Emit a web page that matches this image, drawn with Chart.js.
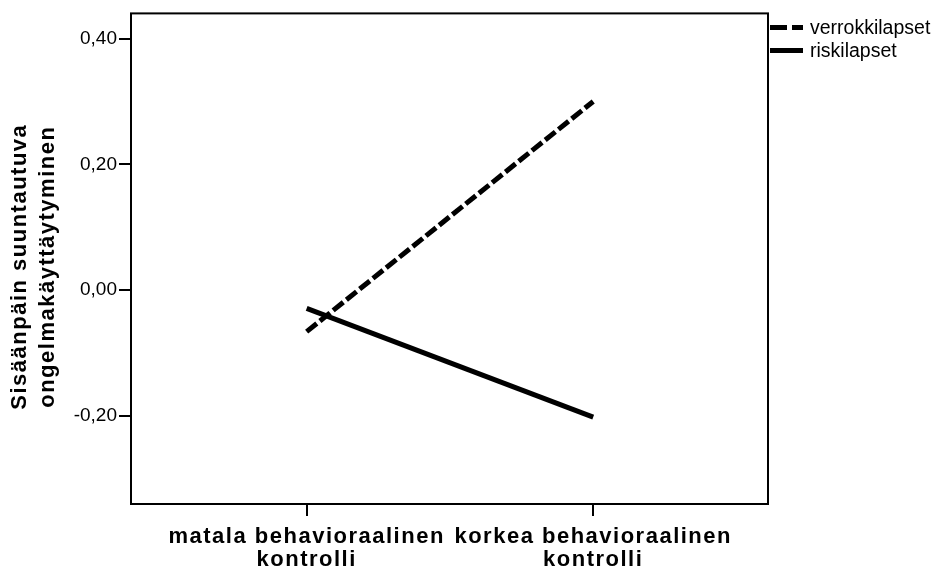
<!DOCTYPE html>
<html lang="fi">
<head>
<meta charset="utf-8">
<title>Sisäänpäin suuntautuva ongelmakäyttäytyminen</title>
<script src="https://cdn.jsdelivr.net/npm/chart.js@4.4.1/dist/chart.umd.min.js"></script>
<style>
  html, body { margin: 0; padding: 0; background: #fff; }
</style>
</head>
<body>
<canvas id="chart" width="935" height="572"></canvas>
<script>
// data
const categories = [["matala behavioraalinen", "kontrolli"], ["korkea behavioraalinen", "kontrolli"]];
const categoryX = [1, 2];
const seriesNames = ["verrokkilapset", "riskilapset"];
const verrokkilapset = [-0.066, 0.30];
const riskilapset = [-0.029, -0.202];
const yTicks = [-0.2, 0, 0.2, 0.4];
const yTitle = ["Sisäänpäin suuntautuva", "ongelmakäyttäytyminen"];

const BOLD_SPACING = "1.5px";

function toPoints(values) {
  return categoryX.map((x, i) => ({ x: x, y: values[i] }));
}

// frame round the plot area
const framePlugin = {
  id: "frame",
  beforeDatasetsDraw(chart) {
    const { ctx, chartArea } = chart;
    ctx.save();
    ctx.strokeStyle = "#000";
    ctx.lineWidth = 2;
    ctx.strokeRect(chartArea.left, chartArea.top, chartArea.right - chartArea.left, chartArea.bottom - chartArea.top);
    ctx.restore();
  }
};

// legend outside the frame, top right
const sideLegend = {
  id: "sideLegend",
  afterDraw(chart) {
    const { ctx, chartArea } = chart;
    ctx.save();
    chart.data.datasets.forEach((ds, i) => {
      const y = chartArea.top + 14 + i * 23;
      ctx.beginPath();
      ctx.setLineDash(ds.legendDash || []);
      ctx.lineWidth = 5;
      ctx.strokeStyle = "#000";
      ctx.moveTo(chartArea.right + 2, y);
      ctx.lineTo(chartArea.right + 35, y);
      ctx.stroke();
      ctx.setLineDash([]);
      ctx.fillStyle = "#000";
      ctx.font = "19.5px Arial";
      ctx.textBaseline = "middle";
      ctx.fillText(ds.label, chartArea.right + 42, y + 1);
    });
    ctx.restore();
  }
};

// bold texts in the original are a bit letter spaced
const spacedText = {
  id: "spacedText",
  beforeDraw(chart) {
    const x = chart.scales.x, y = chart.scales.y;
    const ctx = chart.ctx;
    if (!x._spaced) {
      const orig = x.drawLabels;
      x.drawLabels = function (area) {
        ctx.letterSpacing = BOLD_SPACING;
        orig.call(this, area);
        ctx.letterSpacing = "0px";
      };
      x._spaced = true;
    }
    if (!y._spaced) {
      const orig = y.drawTitle;
      y.drawTitle = function () {
        ctx.save();
        ctx.letterSpacing = BOLD_SPACING;
        ctx.translate(0, 8); // title sits a little below the middle in the original
        orig.call(this);
        ctx.restore();
      };
      y._spaced = true;
    }
  }
};

const tickGrid = {
  drawOnChartArea: false,
  drawTicks: true,
  tickLength: 12,
  lineWidth: 2,
  color: "#000"
};

new Chart(document.getElementById("chart"), {
  type: "line",
  data: {
    datasets: [
      {
        label: seriesNames[0],
        data: toPoints(verrokkilapset),
        borderColor: "#000",
        borderWidth: 5,
        borderDash: [13, 4],
        legendDash: [17, 5],
        pointRadius: 0,
        fill: false,
        tension: 0
      },
      {
        label: seriesNames[1],
        data: toPoints(riskilapset),
        borderColor: "#000",
        borderWidth: 5,
        pointRadius: 0,
        fill: false,
        tension: 0
      }
    ]
  },
  options: {
    responsive: false,
    devicePixelRatio: 1,
    animation: false,
    layout: { padding: { top: 11, right: 167, left: 0, bottom: 0 } },
    plugins: {
      legend: { display: false },
      tooltip: { enabled: false }
    },
    scales: {
      x: {
        type: "linear",
        min: 0.387,
        max: 2.61,
        afterBuildTicks: s => { s.ticks = categoryX.map(v => ({ value: v })); },
        afterFit: s => { s.height = 68; },
        ticks: {
          callback: (v, i) => categories[i],
          font: { family: "Arial", size: 22, weight: "bold", lineHeight: 1.07 },
          color: "#000",
          padding: 9,
          maxRotation: 0,
          minRotation: 0,
          autoSkip: false
        },
        grid: tickGrid,
        border: { display: false }
      },
      y: {
        type: "linear",
        min: -0.34,
        max: 0.44,
        afterBuildTicks: s => { s.ticks = yTicks.map(v => ({ value: v })); },
        afterFit: s => { s.width = 131; },
        ticks: {
          callback: v => v.toFixed(2).replace(".", ","),
          font: { family: "Arial", size: 19 },
          color: "#000",
          padding: 2
        },
        grid: tickGrid,
        border: { display: false },
        title: {
          display: true,
          text: yTitle,
          color: "#000",
          font: { family: "Arial", size: 22, weight: "bold", lineHeight: 1.27 },
          padding: { top: 6, bottom: 0 }
        }
      }
    }
  },
  plugins: [framePlugin, sideLegend, spacedText]
});
</script>
</body>
</html>
